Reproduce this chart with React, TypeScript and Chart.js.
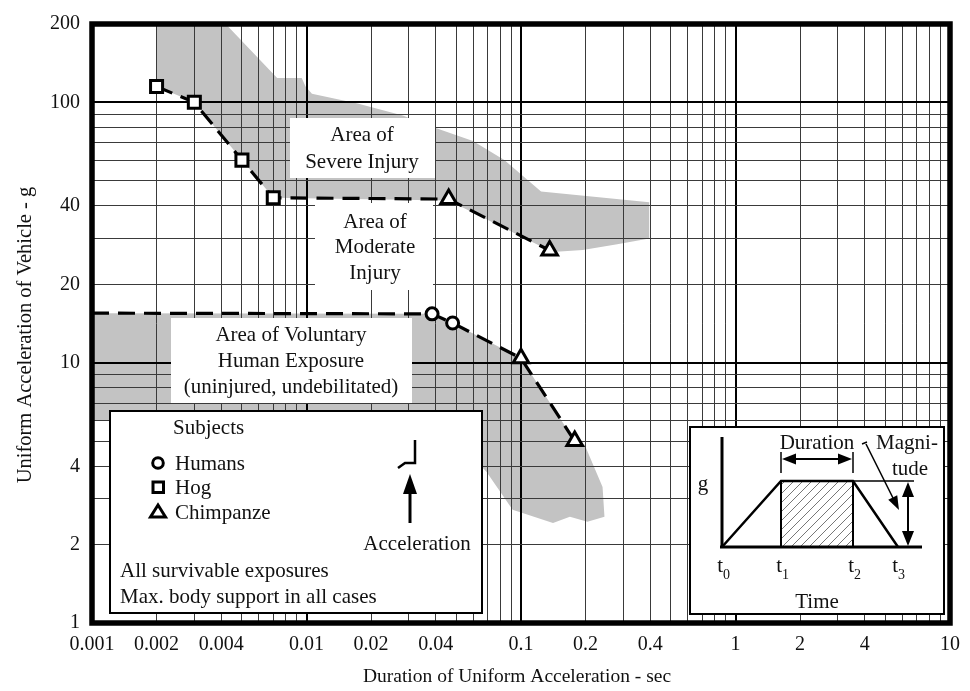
import React, { useEffect, useRef } from 'react';
import { Chart, registerables } from 'chart.js';

Chart.register(...registerables);

const FONT = "'Liberation Serif', 'Times New Roman', serif";

// ---- Data (duration in sec, acceleration in g) ----
const HOG_DURATION = [0.002, 0.003, 0.005, 0.007];
const HOG_ACCEL = [115, 100, 60, 43];
const HUMAN_DURATION = [0.0385, 0.048];
const HUMAN_ACCEL = [15.4, 14.2];
const CHIMP_DURATION = [0.046, 0.136, 0.1, 0.178];
const CHIMP_ACCEL = [42.5, 27, 10.4, 5.0];

const SEVERE_LIMIT_DURATION = [0.002, 0.003, 0.005, 0.007, 0.046, 0.136];
const SEVERE_LIMIT_ACCEL = [115, 100, 60, 43, 42.5, 27];
const VOLUNTARY_LIMIT_DURATION = [0.001, 0.0385, 0.048, 0.1, 0.178];
const VOLUNTARY_LIMIT_ACCEL = [15.5, 15.4, 14.2, 10.4, 5.0];

const SEVERE_ZONE_DURATION = [0.002, 0.0042, 0.0073, 0.0095, 0.0099, 0.0106, 0.0173, 0.0281, 0.0394, 0.0597, 0.0836, 0.124, 0.396, 0.396, 0.281, 0.194, 0.14, 0.046, 0.007, 0.005, 0.003, 0.002];
const SEVERE_ZONE_ACCEL = [200, 200, 124, 124, 115, 108, 99, 89, 80, 71, 60, 45.5, 41.3, 30, 28.5, 27.1, 26.6, 42, 43, 60, 100, 115];
const VOLUNTARY_ZONE_DURATION = [0.001, 0.0385, 0.048, 0.1, 0.178, 0.198, 0.24, 0.245, 0.204, 0.169, 0.141, 0.0914, 0.069, 0.063, 0.0535, 0.001];
const VOLUNTARY_ZONE_ACCEL = [15.5, 15.4, 14.2, 10.4, 5.0, 4.84, 3.33, 2.56, 2.45, 2.56, 2.42, 2.72, 3.81, 4.12, 5.53, 6.0];

const X_TICK_LABELS = ['0.001', '0.002', '0.004', '0.01', '0.02', '0.04', '0.1', '0.2', '0.4', '1', '2', '4', '10'];
const Y_TICK_LABELS = ['1', '2', '4', '10', '20', '40', '100', '200'];

const MANTISSAS = [1, 2, 3, 4, 5, 6, 7, 8, 9];
const X_GRID = [-3, -2, -1, 0]
  .flatMap((e) => MANTISSAS.map((m) => Number((m * Math.pow(10, e)).toPrecision(6))))
  .concat([10]);
const Y_GRID = [0, 1].flatMap((e) => MANTISSAS.map((m) => m * Math.pow(10, e))).concat([100, 200]);

const pts = (xs: number[], ys: number[]) => xs.map((x, i) => ({ x, y: ys[i] }));
const isDecade = (v: number) => Math.abs(Math.log10(v) - Math.round(Math.log10(v))) < 1e-6;
const labelFor = (labels: string[], v: number) => {
  const l = labels.find((s) => Math.abs(Number(s) - v) / v < 1e-6);
  return l === undefined ? '' : l;
};

function arrowHead(ctx: CanvasRenderingContext2D, x: number, y: number, ang: number, len: number, hw: number) {
  ctx.beginPath();
  ctx.moveTo(x, y);
  ctx.lineTo(x - len * Math.cos(ang) + hw * Math.sin(ang), y - len * Math.sin(ang) - hw * Math.cos(ang));
  ctx.lineTo(x - len * Math.cos(ang) - hw * Math.sin(ang), y - len * Math.sin(ang) + hw * Math.cos(ang));
  ctx.closePath();
  ctx.fill();
}

function line(ctx: CanvasRenderingContext2D, coords: number[], w: number) {
  ctx.lineWidth = w;
  ctx.beginPath();
  ctx.moveTo(coords[0], coords[1]);
  for (let i = 2; i < coords.length; i += 2) ctx.lineTo(coords[i], coords[i + 1]);
  ctx.stroke();
}

function text(ctx: CanvasRenderingContext2D, s: string, x: number, y: number, align: CanvasTextAlign = 'center', size = 21) {
  ctx.font = `${size}px ${FONT}`;
  ctx.textAlign = align;
  ctx.textBaseline = 'middle';
  ctx.fillText(s, x, y);
}

function drawAnnotations(ctx: CanvasRenderingContext2D) {
  ctx.save();
  ctx.fillStyle = '#fff';
  // white label backgrounds
  ctx.fillRect(290, 118, 145, 60);
  ctx.fillRect(315, 203, 118, 87);
  ctx.fillRect(171, 318, 241, 85);
  ctx.fillStyle = '#111';
  text(ctx, 'Area of', 362, 135);
  text(ctx, 'Severe Injury', 362, 162);
  text(ctx, 'Area of', 375, 222);
  text(ctx, 'Moderate', 375, 247);
  text(ctx, 'Injury', 375, 273);
  text(ctx, 'Area of Voluntary', 291, 335);
  text(ctx, 'Human Exposure', 291, 361);
  text(ctx, '(uninjured, undebilitated)', 291, 387);

  // Legend box
  ctx.fillStyle = '#fff';
  ctx.fillRect(110, 411, 372, 202);
  ctx.strokeStyle = '#000';
  ctx.lineWidth = 2;
  ctx.strokeRect(110, 411, 372, 202);
  ctx.fillStyle = '#111';
  text(ctx, 'Subjects', 173, 428, 'left');
  text(ctx, 'Humans', 175, 464, 'left');
  text(ctx, 'Hog', 175, 488, 'left');
  text(ctx, 'Chimpanze', 175, 513, 'left');
  ctx.lineWidth = 3;
  ctx.strokeStyle = '#000';
  ctx.beginPath();
  ctx.arc(158, 463, 5.3, 0, Math.PI * 2);
  ctx.stroke();
  ctx.strokeRect(153, 482, 10.5, 10.5);
  ctx.beginPath();
  ctx.moveTo(158, 505);
  ctx.lineTo(165.5, 517);
  ctx.lineTo(150.5, 517);
  ctx.closePath();
  ctx.stroke();
  // acceleration step + arrow
  line(ctx, [398, 468, 405, 463, 415, 463, 415, 440], 2.5);
  line(ctx, [410, 523, 410, 490], 3);
  ctx.fillStyle = '#000';
  arrowHead(ctx, 410, 474, -Math.PI / 2, 20, 7);
  ctx.fillStyle = '#111';
  text(ctx, 'Acceleration', 417, 544);
  text(ctx, 'All survivable exposures', 120, 571, 'left');
  text(ctx, 'Max. body support in all cases', 120, 597, 'left');

  // Inset box
  ctx.fillStyle = '#fff';
  ctx.fillRect(690, 427, 254, 187);
  ctx.lineWidth = 2;
  ctx.strokeRect(690, 427, 254, 187);
  // hatch
  ctx.save();
  ctx.beginPath();
  ctx.rect(781, 481, 72, 66);
  ctx.clip();
  ctx.strokeStyle = '#777';
  ctx.lineWidth = 1;
  for (let k = -80; k < 80; k += 9) {
    ctx.beginPath();
    ctx.moveTo(781 + k, 547);
    ctx.lineTo(781 + k + 80, 467);
    ctx.stroke();
  }
  ctx.restore();
  ctx.strokeStyle = '#000';
  line(ctx, [722, 437, 722, 548], 3);
  line(ctx, [720, 547, 922, 547], 3);
  line(ctx, [722, 547, 781, 481, 853, 481, 898, 547], 2.5);
  line(ctx, [781, 481, 781, 547], 2);
  line(ctx, [853, 481, 853, 547], 2);
  line(ctx, [853, 481, 914, 481], 1.5);
  line(ctx, [781, 452, 781, 473], 1.5);
  line(ctx, [853, 452, 853, 473], 1.5);
  line(ctx, [792, 459, 842, 459], 2);
  ctx.fillStyle = '#000';
  arrowHead(ctx, 782, 459, Math.PI, 14, 5.5);
  arrowHead(ctx, 852, 459, 0, 14, 5.5);
  line(ctx, [908, 495, 908, 533], 2);
  arrowHead(ctx, 908, 482, -Math.PI / 2, 15, 6);
  arrowHead(ctx, 908, 546, Math.PI / 2, 15, 6);
  line(ctx, [862, 444, 867, 442], 1.5);
  line(ctx, [866, 444, 893, 498], 1.5);
  arrowHead(ctx, 899, 510, Math.atan2(66, 33), 14, 5);
  ctx.fillStyle = '#111';
  text(ctx, 'Duration', 817, 443);
  text(ctx, 'Magni-', 907, 443);
  text(ctx, 'tude', 910, 469);
  text(ctx, 'g', 703, 484);
  const tl: [string, number][] = [['0', 722], ['1', 781], ['2', 853], ['3', 897]];
  tl.forEach(([s, cx]) => {
    text(ctx, 't', cx + 1, 566, 'right');
    text(ctx, s, cx + 1, 575, 'left', 14);
  });
  text(ctx, 'Time', 817, 602);
  ctx.restore();
}

const overlayPlugin = {
  id: 'overlay',
  beforeDatasetsDraw(chart: any) {
    chart.$overlayDone = false;
  },
  beforeDatasetDraw(chart: any, args: any) {
    const ds = chart.data.datasets[args.index];
    if (ds.isZone || chart.$overlayDone) return;
    chart.$overlayDone = true;
    chart.scales.x.drawGrid(chart.chartArea);
    chart.scales.y.drawGrid(chart.chartArea);
    drawAnnotations(chart.ctx);
  },
  afterDraw(chart: any) {
    const { ctx, chartArea: a } = chart;
    ctx.save();
    ctx.strokeStyle = '#000';
    ctx.lineWidth = 5.5;
    ctx.strokeRect(a.left, a.top, a.right - a.left, a.bottom - a.top);
    ctx.fillStyle = '#111';
    text(ctx, 'Duration of Uniform Acceleration - sec', 517, 677, 'center', 19.5);
    ctx.translate(26, 335);
    ctx.rotate(-Math.PI / 2);
    text(ctx, 'Uniform Acceleration of Vehicle - g', 0, 0, 'center', 20.5);
    ctx.restore();
  },
};

export default function App() {
  const ref = useRef<HTMLCanvasElement>(null);
  useEffect(() => {
    const zone = (xs: number[], ys: number[]) => ({
      isZone: true,
      data: pts(xs, ys),
      fill: 'shape',
      backgroundColor: '#c3c3c3',
      borderColor: 'rgba(0,0,0,0)',
      borderWidth: 0,
      pointRadius: 0,
      tension: 0,
      order: 10,
    });
    const limit = (xs: number[], ys: number[]) => ({
      data: pts(xs, ys),
      borderColor: '#000',
      borderWidth: 3.2,
      borderDash: [17, 9],
      pointRadius: 0,
      fill: false,
      tension: 0,
      order: 5,
    });
    const marker = (xs: number[], ys: number[], style: string, r: number) => ({
      data: pts(xs, ys),
      showLine: false,
      pointStyle: style,
      pointRadius: r,
      pointBackgroundColor: '#fff',
      pointBorderColor: '#000',
      pointBorderWidth: 3,
      order: 0,
    });
    const chart = new Chart(ref.current as HTMLCanvasElement, {
      type: 'line',
      data: {
        datasets: [
          zone(SEVERE_ZONE_DURATION, SEVERE_ZONE_ACCEL),
          zone(VOLUNTARY_ZONE_DURATION, VOLUNTARY_ZONE_ACCEL),
          limit(SEVERE_LIMIT_DURATION, SEVERE_LIMIT_ACCEL),
          limit(VOLUNTARY_LIMIT_DURATION, VOLUNTARY_LIMIT_ACCEL),
          marker(HOG_DURATION, HOG_ACCEL, 'rect', 8.5),
          marker(HUMAN_DURATION, HUMAN_ACCEL, 'circle', 6),
          marker(CHIMP_DURATION, CHIMP_ACCEL, 'triangle', 9),
        ] as any,
      },
      options: {
        responsive: false,
        devicePixelRatio: 1,
        animation: false,
        events: [],
        layout: { padding: { top: 17, right: 15, left: 0, bottom: 0 } },
        plugins: { legend: { display: false }, tooltip: { enabled: false } },
        scales: {
          x: {
            type: 'logarithmic',
            min: 0.001,
            max: 10,
            afterBuildTicks: (s: any) => {
              s.ticks = X_GRID.map((value) => ({ value }));
            },
            afterFit: (s: any) => {
              s.height = 68;
            },
            ticks: {
              autoSkip: false,
              maxRotation: 0,
              padding: 10,
              color: '#111',
              font: { family: FONT, size: 20 },
              callback: (v: any) => labelFor(X_TICK_LABELS, Number(v)),
            },
            grid: {
              drawTicks: false,
              color: (c: any) => (isDecade(c.tick.value) ? '#000' : '#3a3a3a'),
              lineWidth: (c: any) => (isDecade(c.tick.value) ? 2 : 1),
            },
            border: { display: false },
          },
          y: {
            type: 'logarithmic',
            min: 1,
            max: 200,
            afterBuildTicks: (s: any) => {
              s.ticks = Y_GRID.map((value) => ({ value }));
            },
            afterFit: (s: any) => {
              s.width = 92;
            },
            ticks: {
              autoSkip: false,
              padding: 12,
              color: '#111',
              font: { family: FONT, size: 20 },
              callback: (v: any) => labelFor(Y_TICK_LABELS, Number(v)),
            },
            grid: {
              drawTicks: false,
              color: (c: any) => (isDecade(c.tick.value) ? '#000' : '#3a3a3a'),
              lineWidth: (c: any) => (isDecade(c.tick.value) ? 2 : 1),
            },
            border: { display: false },
          },
        },
      } as any,
      plugins: [overlayPlugin],
    });
    return () => chart.destroy();
  }, []);
  return (
    <div style={{ position: 'absolute', left: 0, top: 0, width: 970, height: 691, background: '#fff' }}>
      <canvas ref={ref} width={970} height={691} style={{ display: 'block', width: 970, height: 691 }} />
    </div>
  );
}
